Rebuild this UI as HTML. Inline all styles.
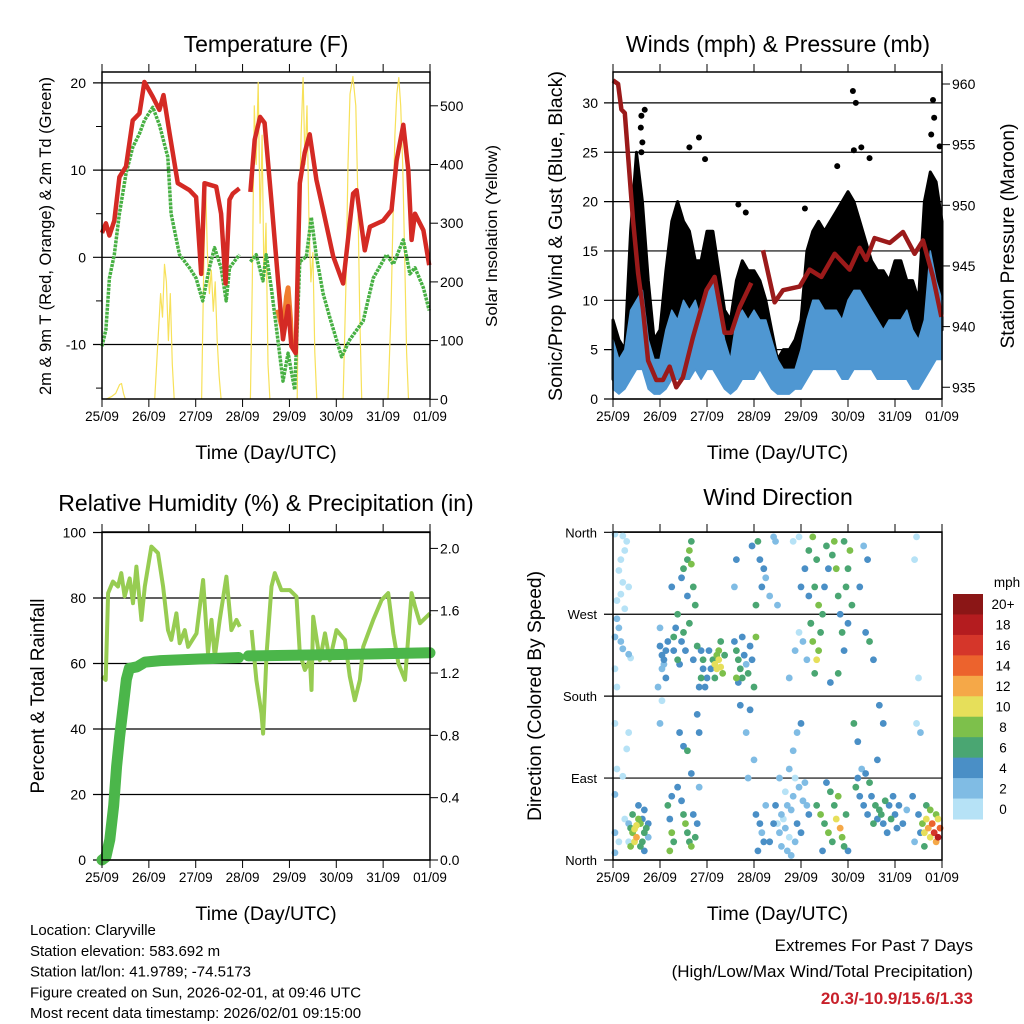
<!DOCTYPE html>
<html><head><meta charset="utf-8"><style>
html,body{margin:0;padding:0;background:#fff;}
svg{display:block;font-family:"Liberation Sans",Arial,sans-serif;}
</style></head><body>
<svg id="fig" width="1024" height="1024" viewBox="0 0 1024 1024" xmlns="http://www.w3.org/2000/svg">
<rect x="0" y="0" width="1024" height="1024" fill="#fff"/>
<g id="layer-back"></g>
<g id="layer-data"></g>
<g id="layer-front"></g>
</svg>
<script>
// ---------- data ----------
const dayLabels=["25/09","26/09","27/09","28/09","29/09","30/09","31/09","01/09"];
const tempTicks=[20,10,0,-10];
const solarTicks=[500,400,300,200,100,0];
const windTicks=[30,25,20,15,10,5,0];
const pressTicks=[960,955,950,945,940,935];
const rhTicks=[100,80,60,40,20,0];
const rainTicks=["2.0","1.6","1.2","0.8","0.4","0.0"];
const dirLabels=["North","West","South","East","North"];
const speedLabels=["20+","18","16","14","12","10","8","6","4","2","0"];
const speedColors=["#8b1616","#b41c1f","#d5362a","#ec632d","#f5a848","#e6df5a","#7dc04b","#4aa672","#4a8fc6","#80bce4","#b6e2f6"];

// temperature (hour, degF); null breaks the line
const tempHours=[0,2,3.8,6.3,8.9,12.3,15.7,19.2,21.7,26,29.4,31.5,34.6,38.8,44.8,48.2,50.8,52.5,58.5,61,63.3,65.3,67,70.4,null,76,78.2,81,83.3,86.7,92.7,95.3,97,99.2,101.3,103.8,106.4,109.8,113.3,118.4,123.5,128.6,130.4,134.6,137.2,144,148.3,150.9,154.3,156.9,158.6,160.3,164.6,167.6];
const tempRed=[2.8,3.9,2.5,4.2,9.2,10.4,15.7,16.5,20.1,18.4,16.9,18.6,14.2,8.5,7.7,6.9,-1.9,8.5,8.1,5.0,-3.0,6.6,7.3,7.9,null,7.5,13.5,16.1,15.4,6.6,-9.4,-5.6,-10.2,-11.0,8.5,12.0,14.1,8.9,5.4,0.1,-3.0,7.3,7.7,0.8,3.5,4.2,5.4,11.1,15.2,10.0,2.0,5.0,3.1,-0.9];
const tempOrangeHours=[90,92.7,94.5,95.3,96.5,97,99.2];
const tempOrange=[-6,-8.5,-4.5,-3.5,-7,-9.5,-10.5];
const dewHours=[0,2,3.8,6.3,8.9,12.3,15.7,19.2,21.7,26,29.4,33.7,35.4,39.7,44.8,48.2,51.6,55,57.6,61,63.6,65.3,70.4,null,76,79,82.4,84.1,86.7,89.3,92.7,95.3,98.7,101.3,104.7,107.2,109.8,113.3,116.7,122.7,127,133.8,138.9,145.7,149.2,154.3,157.7,160.3,164.6,167.6];
const dewGreen=[-10.2,-8.3,-2.4,0.3,5.0,9.6,12.6,14.2,15.7,17.2,15.2,11.5,5.0,0.3,-1.2,-2.4,-5.0,-1.2,1.1,-1.2,-5.0,-1.2,0.3,null,-0.5,0.3,-2.7,0.3,-3.5,-8.0,-14.2,-11.0,-15.2,-0.5,0.1,4.6,0.1,-4.2,-6.9,-11.4,-9.4,-7.3,-2.4,0.3,-0.8,2.0,-1.9,-1.2,-3.5,-6.1];
const solarHours=[2,5,7,9,10,11,12,null,27,29,30,31,32,33,34,35,36,37,null,51,52,53,54,55,56,57,58,59,60,61,null,76,77,78,79,80,81,82,83,84,85,86,null,100,101,102,103,104,105,106,107,108,109,110,null,123.5,125,126,127,128.5,130,131,132,133,null,146.5,148,149,150,151,152,153,154,155,156,157];
const solarValues=[0,5,10,25,27,10,0,null,0,120,180,140,230,200,100,180,60,0,null,0,200,370,250,180,220,150,200,100,40,0,null,0,200,500,400,540,300,450,200,300,60,0,null,0,300,450,548,400,500,300,200,250,80,0,null,0,200,400,520,550,500,350,150,0,null,0,150,300,450,520,548,500,400,250,80,0];

// winds (3-hourly envelopes, mph)
const windHours=[0,3,6,9,12,15,18,21,24,27,30,33,36,39,42,45,48,51,54,57,60,63,66,69,72,75,78,81,84,87,90,93,96,99,102,105,108,111,114,117,120,123,126,129,132,135,138,141,144,147,150,153,156,159,162,165,168];
const windLow=[1,0.5,1,2,3,3,1,0.5,0.5,1,2,2,2,2,3,2,3,3,2,1,0.5,1,2,2,2,3,2,1,0.5,0.5,0.5,1,1,2,3,3,3,3,3,2,2,3,3,3,3,2,2,2,2,2,2,1,1,2,3,4,4];
const windHigh=[6,4,5,9,10,11,6,4,4,7,9,8,10,9,10,8,11,12,9,6,4,8,9,8,9,8,8,6,4,3,3,3,5,8,10,10,9,9,9,8,10,11,11,10,9,8,7,8,8,8,9,7,6,8,15,12,10];
const gustLow=[2,1,2,6,8,8,3,1,2,4,6,6,8,7,6,5,7,8,4,2,2,4,5,5,5,4,3,2,1,1,1,2,3,6,8,7,6,7,7,7,8,8,7,6,5,5,4,5,5,6,5,4,3,7,9,8,7];
const gustHigh=[8,6,5,17,25,20,12,6,7,13,18,20,18,17,14,14,17,17,13,9,8,12,14,13,13,12,10,7,4,5,5,6,8,15,17,18,17,18,19,20,21,20,18,16,14,13,13,12,14,14,12,12,10,20,23,22,18];
const gustPeakHours=[16.2,14.5,14.2,15,14.5,39,43.9,47,64,67.8,98,122.5,124,123,126.8,131,114.5,163.4,164,166.8,162.5];
const gustPeaks=[29.3,28.7,27.5,26,25,25.5,26.5,24.3,19.7,18.9,19.3,31.2,30,25.2,25.5,24.4,23.6,30.3,28.5,25.6,26.8];
const pressHours=[0,2.6,4.3,6,10.2,12.8,15.3,17.9,22.1,25.5,28.9,32.3,35.7,40.8,47.7,51.9,57,60.4,64.7,70.6,null,76.6,82.5,86.8,95.3,100.4,106.4,113.2,120.8,125.9,129.3,133.6,141.3,148.1,154,158.3,163.4,167.7];
const pressValues=[960.3,960.0,957.9,957.6,948.8,944.4,941.4,937.2,935.6,935.6,936.7,935,935.8,939.1,943,944.1,939.5,939.5,941.6,943.6,null,946.3,942,943,943.3,944.7,944.1,946,944.7,946.5,945.5,947.3,946.9,947.8,946,947.1,944.1,940.8];

// relative humidity & precipitation
const rhHours=[0,1.9,3.1,5.6,8.2,9.9,11.6,14.2,15.9,17.6,20.2,21.9,25.3,28.7,31.3,33.8,35.5,38.1,39.8,42.4,44.1,48.4,51.8,54.3,56.1,57.8,60.3,63.7,66.3,68.9,70.6,null,76.6,79.1,81.7,82.5,84.3,86.8,88.5,91.9,96.2,99.6,101.3,103.9,106.5,107.3,108.2,111.6,114.2,116.7,120.1,124.4,126.9,129.5,132.1,133.8,138.9,143.2,146.6,149.2,151.8,155.2,158.6,160.3,162.9,168];
const rhValues=[56,55,81.5,85,83.5,87.6,80.5,86,78.4,89.6,73.3,83.5,95.7,93.7,83.5,70.2,67.2,75.3,66.2,70.2,65.1,69.2,85.5,63.1,73.3,62,73.3,86.5,70.2,73.3,71.2,null,70.2,54.9,44.7,38.6,63.1,83.5,87.6,82.4,82.4,80.4,63.1,58,61,51.9,74.3,61,69.2,61,70.2,67.2,56,48.8,55,65.1,73.3,79.4,81.5,69.2,60,55,81.5,77.4,72.3,75.3];
const rainHours=[0,2,4,6,7.5,9,11,12.5,14,18,22,30,50,70,null,75,130,168];
const rainTotal=[0,0.02,0.13,0.35,0.6,0.79,1.0,1.16,1.23,1.24,1.27,1.28,1.29,1.3,null,1.31,1.32,1.33];

// wind direction scatter (hour, degrees, mph)
const dirHours=[1,5,7,6,4,3,5,8,4,2,6,2,3,1,4,5,8,9,1,2,1,8,7,2,5,1,6,1,3,1,
8,9,10,11,12,12,13,14,11,10,15,16,17,15,13,16,18,14,9,16,8,18,
24,25,26,27,25,28,27,26,24,23,24,25,30,31,32,33,31,34,35,33,36,38,39,40,40,41,38,42,39,37,41,43,35,36,34,36,38,40,45,44,46,45,43,44,
28,29,30,31,29,35,36,37,38,39,40,42,43,41,30,33,44,
52,53,54,55,53,54,56,52,51,50,49,48,57,55,47,46,
62,63,64,65,66,64,67,68,69,70,71,72,73,63,66,70,65,68,72,69,62,63,
71,74,75,77,78,80,76,82,73,84,83,73,75,76,74,78,77,
84,85,86,87,88,89,90,91,92,93,94,95,96,97,98,86,88,90,92,94,96,89,99,100,85,83,80,82,91,93,
90,93,95,97,99,96,98,100,92,95,101,
100,102,104,103,105,101,102,104,105,106,103,107,108,110,109,112,114,113,115,116,117,118,111,115,119,120,121,118,120,122,
104,106,108,110,112,114,116,117,118,113,115,119,120,107,111,109,
124,125,126,128,130,132,134,133,135,136,137,138,140,142,141,143,144,145,139,131,129,127,146,148,150,
158,159,160,161,162,163,164,165,166,167,166,165,160,159,162,157,156,154,153,
128,130,126,129,131,133,136,138,155,154,156,155,157,135,125,123];
const dirDegrees=[358,356,350,340,330,318,305,300,292,285,276,265,255,245,240,232,226,222,210,190,150,140,122,100,92,72,45,30,20,8,
40,35,30,34,25,38,45,40,20,50,20,30,35,45,60,55,40,15,15,10,20,25,
235,225,220,230,210,240,200,215,255,190,150,175,300,245,255,220,230,215,240,270,250,330,340,350,325,300,290,280,260,230,220,235,310,320,140,125,120,95,200,190,210,230,160,140,
60,45,30,20,10,65,50,40,30,20,15,25,40,50,70,80,80,
215,210,220,212,225,230,205,200,220,210,230,200,225,240,190,220,
240,230,220,210,200,195,225,215,205,235,220,190,245,200,245,165,170,140,110,90,300,330,
345,350,330,320,310,290,300,355,280,280,350,50,40,30,10,60,20,
40,30,50,45,35,60,25,55,70,20,40,80,30,65,85,15,75,100,120,140,150,10,60,50,90,60,20,40,5,90,
200,230,250,240,220,300,320,290,350,355,260,
340,355,330,300,280,260,240,220,230,250,205,270,300,320,345,335,320,350,290,270,250,230,195,205,300,320,340,350,260,280,
60,50,40,30,20,45,35,25,15,60,70,50,10,10,75,85,
80,90,70,60,50,70,60,40,45,55,50,40,30,45,60,70,50,35,65,85,95,100,60,40,55,
40,30,45,35,25,40,30,20,45,35,25,50,60,15,55,30,50,20,70,
345,330,300,250,240,220,170,150,355,330,200,150,140,110,130,150];
const dirSpeeds=[0,0,1,1,0,0,1,1,0,0,1,2,3,3,2,2,2,1,1,0,0,0,0,0,1,2,1,3,1,3,
2,6,8,10,12,10,9,8,10,6,7,6,6,4,4,5,4,6,8,5,0,3,
4,4,4,4,3,5,4,2,3,2,2,1,4,6,5,6,4,4,5,6,6,6,8,6,8,6,4,6,6,4,4,6,4,6,4,4,6,4,6,4,4,4,4,4,
6,4,8,6,8,4,6,8,6,6,8,6,4,4,4,4,2,
10,10,10,10,8,8,8,6,6,4,4,4,6,6,4,6,
4,6,6,6,6,4,4,2,6,4,4,6,8,8,4,4,4,2,2,2,2,4,
4,6,4,4,2,2,4,2,6,2,2,4,4,2,4,2,4,
0,2,2,0,2,2,0,2,2,2,4,2,4,2,2,2,0,2,2,2,4,2,2,4,2,4,4,4,2,0,
2,2,0,2,2,4,4,4,0,0,6,
6,8,6,6,8,6,8,10,8,6,6,6,4,4,6,6,8,8,6,4,6,4,4,6,6,6,8,6,4,6,
6,8,6,8,6,10,12,8,6,6,8,6,4,4,6,4,
6,4,4,4,4,4,6,6,4,6,6,4,4,6,4,4,4,4,6,6,4,2,4,4,2,
8,10,10,12,10,14,16,12,10,14,18,8,6,6,8,4,4,2,4,
2,4,4,4,6,4,4,4,0,0,0,0,2,4,4,6];

// ---------- helpers ----------
const NS="http://www.w3.org/2000/svg";
const back=document.getElementById('layer-back');
const dataL=document.getElementById('layer-data');
const front=document.getElementById('layer-front');
function mk(tag,parent,attrs,txt){const e=document.createElementNS(NS,tag);for(const k in attrs)e.setAttribute(k,attrs[k]);if(txt!==undefined)e.textContent=txt;parent.appendChild(e);return e;}
function linPath(xs,ys,fx,fy){let d="",pen=false;for(let i=0;i<xs.length;i++){if(xs[i]===null||ys[i]===null){pen=false;continue;}d+=(pen?"L":"M")+fx(xs[i]).toFixed(1)+","+fy(ys[i]).toFixed(1);pen=true;}return d;}
function bandPath(xs,lo,hi,fx,fy){let d="";for(let i=0;i<xs.length;i++)d+=(i?"L":"M")+fx(xs[i]).toFixed(1)+","+fy(hi[i]).toFixed(1);for(let i=xs.length-1;i>=0;i--)d+="L"+fx(xs[i]).toFixed(1)+","+fy(lo[i]).toFixed(1);return d+"Z";}
const FONT='"Liberation Sans",Arial,sans-serif';

const P={tl:{x0:102,x1:430,y0:72,y1:399},tr:{x0:613,x1:942,y0:72,y1:399},bl:{x0:102,x1:430,y0:532,y1:860},br:{x0:613,x1:942,y0:532,y1:860}};
function xs(p){return h=>p.x0+h/168*(p.x1-p.x0);}

function frame(p,name){
  const r=mk('rect',front,{x:p.x0,y:p.y0,width:p.x1-p.x0,height:p.y1-p.y0,fill:'none',stroke:'#000','stroke-width':1.5});
  
  
  const fx=xs(p);
  for(let i=0;i<dayLabels.length;i++){
    const x=fx(i*24);
    mk('line',front,{x1:x,y1:p.y0,x2:x,y2:p.y0-8,stroke:'#000','stroke-width':1});
    mk('line',front,{x1:x,y1:p.y1,x2:x,y2:p.y1+8,stroke:'#000','stroke-width':1});
    const t=mk('text',front,{x:x,y:p.y1+22,'font-size':13.5,'text-anchor':'middle','font-family':FONT},dayLabels[i]);
    
    
  }
  const xt=mk('text',front,{x:(p.x0+p.x1)/2,y:p.y1+60,'font-size':19.5,'text-anchor':'middle','font-family':FONT},'Time (Day/UTC)');
  
  
}
function hgrid(p,y){
  mk('line',back,{x1:p.x0-9,y1:y,x2:p.x1,y2:y,stroke:'#000','stroke-width':1.2});
}
function ylabel(x,y,txt,anchor,name,size){
  const t=mk('text',front,{x:x,y:y+5,'font-size':size||14,'text-anchor':anchor,'font-family':FONT},txt);
  
  
  return t;
}
function rotTitle(x,y,txt,size,name,len){
  const a={x:x,y:y,'font-size':size,'text-anchor':'middle','font-family':FONT,transform:`rotate(-90 ${x} ${y})`};
  if(len){a.textLength=len;a.lengthAdjust='spacingAndGlyphs';}
  const t=mk('text',front,a,txt);
  
  
}
function title(x,y,txt,name){
  const t=mk('text',front,{x:x,y:y,'font-size':23,'text-anchor':'middle','font-family':FONT},txt);
  
  
}

// ---------- Temperature panel ----------
(function(){
  const p=P.tl,fx=xs(p);
  const fy=v=>257.3-v*8.72;
  const fs=v=>399.3-v*0.587;
  tempTicks.forEach(v=>{hgrid(p,fy(v));ylabel(86,fy(v),String(v),'end','temp-tick-'+v);});
  [15,5,-5,-15].forEach(v=>mk('line',front,{x1:p.x0-6,y1:fy(v),x2:p.x0,y2:fy(v),stroke:'#000'}));
  solarTicks.forEach(v=>{mk('line',front,{x1:p.x1,y1:fs(v),x2:p.x1+8,y2:fs(v),stroke:'#000'});ylabel(440,fs(v),String(v),'start','solar-tick-'+v);});
  const s=mk('path',dataL,{d:linPath(solarHours,solarValues,fx,fs),fill:'none',stroke:'#f7e15a','stroke-width':1.2,'stroke-linejoin':'round'});
  
  
  const g=mk('path',dataL,{d:linPath(dewHours,dewGreen,fx,fy),fill:'none',stroke:'#47b043','stroke-width':3.5,'stroke-dasharray':'3 1','stroke-linejoin':'round'});
  
  
  const o=mk('path',dataL,{d:linPath(tempOrangeHours,tempOrange,fx,fy),fill:'none',stroke:'#f07d2e','stroke-width':5,'stroke-linejoin':'round'});
  
  
  const r=mk('path',dataL,{d:linPath(tempHours,tempRed,fx,fy),fill:'none',stroke:'#d42a24','stroke-width':4.5,'stroke-linejoin':'round'});
  
  
  frame(p,'temperature');
  title(266,52,'Temperature (F)','temperature-title');
  rotTitle(51,236,'2m & 9m T (Red, Orange) & 2m Td (Green)',16.5,'temperature-y-axis-title',318);
  rotTitle(497,236,'Solar Insolation (Yellow)',15.5,'solar-y-axis-title',182);
})();

// ---------- Winds panel ----------
(function(){
  const p=P.tr,fx=xs(p);
  const fy=v=>399-v*9.87;
  const fp=v=>84-(v-960)*12.13;
  windTicks.forEach(v=>{hgrid(p,fy(v));ylabel(598,fy(v),String(v),'end','wind-tick-'+v);});
  pressTicks.forEach(v=>{mk('line',front,{x1:p.x1,y1:fp(v),x2:p.x1+8,y2:fp(v),stroke:'#000'});ylabel(952,fp(v),String(v),'start','pressure-tick-'+v);});
  const gb=mk('path',dataL,{d:bandPath(windHours,gustLow,gustHigh,fx,fy),fill:'#000',stroke:'#000','stroke-width':3,'stroke-linejoin':'round'});
  
  
  for(let i=0;i<gustPeakHours.length;i++){
    const c=mk('circle',dataL,{cx:fx(gustPeakHours[i]),cy:fy(gustPeaks[i]),r:3,fill:'#000'});
    
    
  }
  const wb=mk('path',dataL,{d:bandPath(windHours,windLow,windHigh,fx,fy),fill:'#4f97d2',stroke:'#4f97d2','stroke-width':1.5,'stroke-linejoin':'round'});
  
  
  const pr=mk('path',dataL,{d:linPath(pressHours,pressValues,fx,fp),fill:'none',stroke:'#9b1a1a','stroke-width':4.5,'stroke-linejoin':'round'});
  
  
  frame(p,'winds');
  title(778,52,'Winds (mph) & Pressure (mb)','winds-title');
  rotTitle(562,236,'Sonic/Prop Wind & Gust (Blue, Black)',19,'wind-y-axis-title',330);
  rotTitle(1014,236,'Station Pressure (Maroon)',19,'pressure-y-axis-title',225);
})();

// ---------- RH panel ----------
(function(){
  const p=P.bl,fx=xs(p);
  const fy=v=>860-v*3.275;
  const fr=v=>860-v*155.8;
  rhTicks.forEach(v=>{hgrid(p,fy(v));ylabel(86,fy(v),String(v),'end','rh-tick-'+v);});
  rainTicks.forEach(v=>{const y=fr(parseFloat(v));mk('line',front,{x1:p.x1,y1:y,x2:p.x1+8,y2:y,stroke:'#000'});ylabel(440,y,v,'start','rain-tick-'+v);});
  const rh=mk('path',dataL,{d:linPath(rhHours,rhValues,fx,fy),fill:'none',stroke:'#97cc52','stroke-width':4,'stroke-linejoin':'round'});
  
  
  const rn=mk('path',dataL,{d:linPath(rainHours,rainTotal,fx,fr),fill:'none',stroke:'#4bb64a','stroke-width':11,'stroke-linejoin':'round','stroke-linecap':'round'});
  
  
  frame(p,'humidity');
  title(266,511,'Relative Humidity (%) & Precipitation (in)','humidity-title');
  rotTitle(44,696,'Percent & Total Rainfall',19,'humidity-y-axis-title',195);
})();

// ---------- Wind direction panel ----------
(function(){
  const p=P.br,fx=xs(p);
  const fy=v=>860-v*0.9103;
  const dirVals=[360,270,180,90,0];
  dirLabels.forEach((l,i)=>{const y=fy(dirVals[i]);hgrid(p,y);ylabel(597,y,l,'end','direction-tick-'+l.toLowerCase()+'-'+i,13);});
  const idx=dirHours.map((_,i)=>i).sort((a,b)=>dirSpeeds[a]-dirSpeeds[b]);
  idx.forEach(i=>{
    const s=dirSpeeds[i];
    const ci=10-Math.min(10,Math.floor(s/2));
    const c=mk('circle',dataL,{cx:fx(dirHours[i]),cy:fy(dirDegrees[i]),r:3.4,fill:speedColors[ci]});
    
    
  });
  frame(p,'direction');
  title(778,505,'Wind Direction','direction-title');
  rotTitle(541,696,'Direction (Colored By Speed)',19,'direction-y-axis-title',250);
  const bh=(819-594)/11;
  speedColors.forEach((c,i)=>{
    const r=mk('rect',front,{x:953,y:594+i*bh,width:30,height:bh+0.5,fill:c});
    
    
    const t=mk('text',front,{x:1003,y:594+i*bh+bh/2+5,'font-size':13.5,'text-anchor':'middle','font-family':FONT},speedLabels[i]);
    
    
  });
  const u=mk('text',front,{x:1007,y:587,'font-size':13.5,'text-anchor':'middle','font-family':FONT},'mph');
  
  
})();

// ---------- footer text ----------
const info=["Location: Claryville","Station elevation: 583.692 m","Station lat/lon: 41.9789; -74.5173","Figure created on Sun, 2026-02-01, at 09:46 UTC","Most recent data timestamp: 2026/02/01 09:15:00"];
info.forEach((s,i)=>{
  const t=mk('text',front,{x:30,y:935+i*20.8,'font-size':15,'font-family':FONT},s);
  
  
});
const ex1=mk('text',front,{x:973,y:951,'font-size':17,'text-anchor':'end','font-family':FONT},'Extremes For Past 7 Days');


const ex2=mk('text',front,{x:973,y:977,'font-size':17,'text-anchor':'end','font-family':FONT},'(High/Low/Max Wind/Total Precipitation)');


const ex3=mk('text',front,{x:973,y:1004,'font-size':17,'font-weight':'bold','text-anchor':'end','fill':'#c8202a','font-family':FONT},'20.3/-10.9/15.6/1.33');


</script>
</body></html>
